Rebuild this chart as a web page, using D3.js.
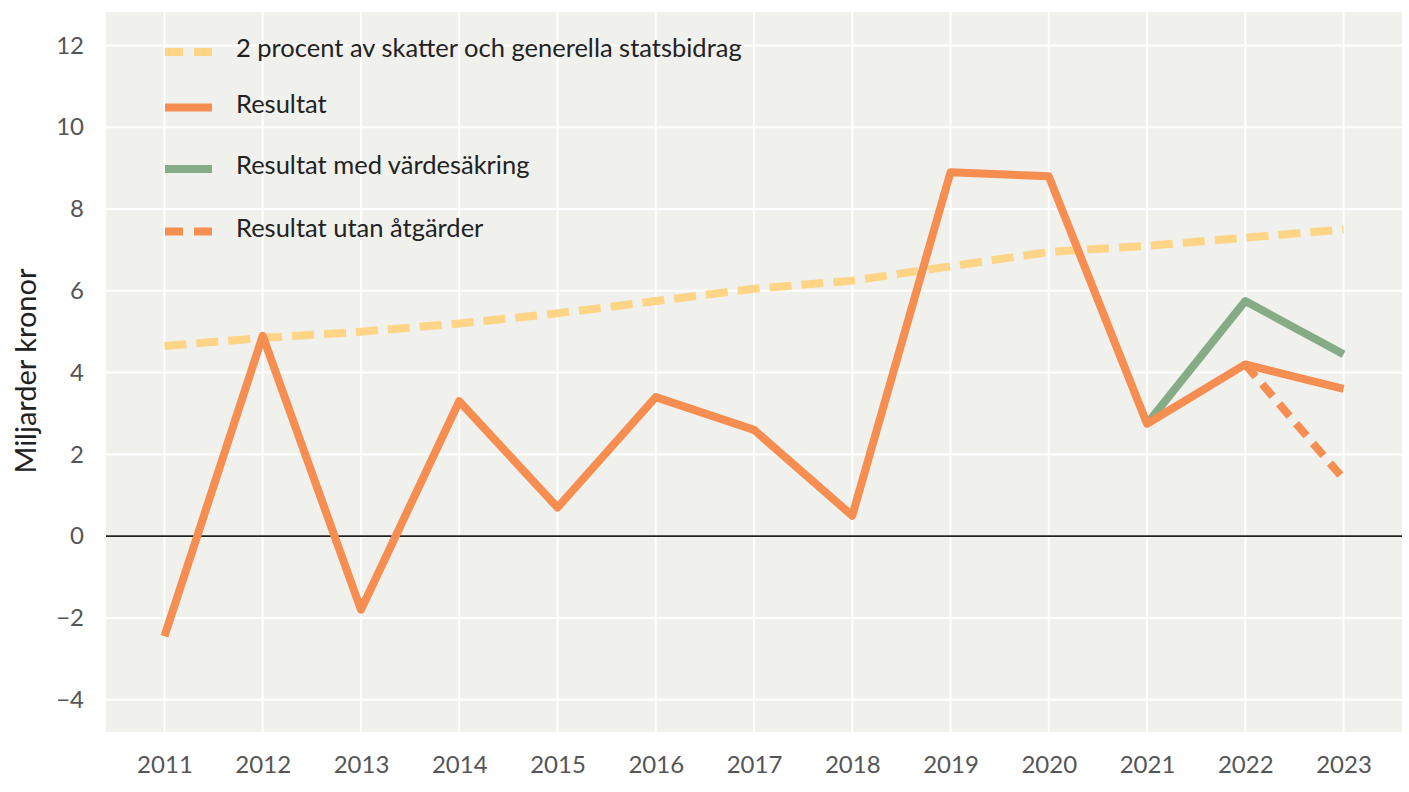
<!DOCTYPE html>
<html lang="sv">
<head>
<meta charset="UTF-8">
<title>Resultat</title>
<script src="https://d3js.org/d3.v7.min.js"></script>
<style>
  body { margin: 0; background: #fff; }
  svg text { font-family: Lato, "Open Sans", sans-serif; }
</style>
</head>
<body>
<div id="chart"></div>
<script>
// data (miljarder kronor)
var years = [2011, 2012, 2013, 2014, 2015, 2016, 2017, 2018, 2019, 2020, 2021, 2022, 2023];
var tvaProcent = [4.65, 4.85, 5.0, 5.2, 5.45, 5.75, 6.05, 6.25, 6.6, 6.95, 7.1, 7.3, 7.5];
var resultat = [-2.45, 4.9, -1.8, 3.3, 0.7, 3.4, 2.6, 0.5, 8.9, 8.8, 2.75, 4.2, 3.6];
var vardesakringYears = [2021, 2022, 2023];
var vardesakring = [2.75, 5.75, 4.45];
var utanYears = [2022, 2023];
var utanAtgarder = [4.2, 1.4];
var yTicks = [-4, -2, 0, 2, 4, 6, 8, 10, 12];
var legendLabels = ["2 procent av skatter och generella statsbidrag", "Resultat", "Resultat med värdesäkring", "Resultat utan åtgärder"];

var width = 1409, height = 792;
var plotLeft = 106, plotRight = 1402, plotTop = 12, plotBottom = 732;

var orange = "#f68d51", yellow = "#fed487", green = "#85ab87";

var x = d3.scaleLinear().domain([2010.405, 2023.595]).range([plotLeft, plotRight]);
var y = d3.scaleLinear().domain([-4.79, 12.82]).range([plotBottom, plotTop]);

var svg = d3.select("#chart").append("svg")
    .attr("width", width)
    .attr("height", height);

// plot background
svg.append("rect")
    .attr("x", plotLeft).attr("y", plotTop)
    .attr("width", plotRight - plotLeft).attr("height", plotBottom - plotTop)
    .attr("fill", "#f0f0ec");

// gridlines
svg.append("g").selectAll("line").data(yTicks).enter().append("line")
    .attr("x1", plotLeft).attr("x2", plotRight)
    .attr("y1", d => y(d)).attr("y2", d => y(d))
    .attr("stroke", "#fff").attr("stroke-width", 2);
svg.append("g").selectAll("line").data(years).enter().append("line")
    .attr("x1", d => x(d)).attr("x2", d => x(d))
    .attr("y1", plotTop).attr("y2", plotBottom)
    .attr("stroke", "#fff").attr("stroke-width", 2);

// zero line
svg.append("line")
    .attr("x1", plotLeft).attr("x2", plotRight)
    .attr("y1", y(0)).attr("y2", y(0))
    .attr("stroke", "#222").attr("stroke-width", 1.6);

// axes labels
var yAxis = d3.axisLeft(y).tickValues(yTicks).tickSize(0).tickPadding(0)
    .tickFormat(d => d < 0 ? "\u2212" + Math.abs(d) : d);
var gy = svg.append("g").attr("transform", "translate(84,0)").call(yAxis);
gy.select(".domain").remove();
gy.selectAll("text").attr("font-size", 24).attr("fill", "#555").attr("font-family", "Lato, sans-serif");

var xAxis = d3.axisBottom(x).tickValues(years).tickSize(0).tickPadding(0).tickFormat(d3.format("d"));
var gx = svg.append("g").attr("transform", "translate(0,756)").call(xAxis);
gx.select(".domain").remove();
gx.selectAll("text").attr("font-size", 24).attr("fill", "#555").attr("font-family", "Lato, sans-serif");

svg.append("text")
    .attr("transform", "translate(36,371) rotate(-90)")
    .attr("text-anchor", "middle")
    .attr("font-size", 29)
    .attr("fill", "#222")
    .text("Miljarder kronor");

var line = d3.line().x(d => x(d[0])).y(d => y(d[1]));

svg.append("path")
    .attr("d", line(d3.zip(years, tvaProcent)))
    .attr("fill", "none").attr("stroke", yellow)
    .attr("stroke-width", 8).attr("stroke-dasharray", "22,10");

svg.append("path")
    .attr("d", line(d3.zip(utanYears, utanAtgarder)))
    .attr("fill", "none").attr("stroke", orange)
    .attr("stroke-width", 8).attr("stroke-dasharray", "16,10");

svg.append("path")
    .attr("d", line(d3.zip(vardesakringYears, vardesakring)))
    .attr("fill", "none").attr("stroke", green)
    .attr("stroke-width", 8).attr("stroke-linejoin", "round");

svg.append("path")
    .attr("d", line(d3.zip(years, resultat)))
    .attr("fill", "none").attr("stroke", orange)
    .attr("stroke-width", 8).attr("stroke-linejoin", "round");

// legend
var legendRows = [52, 107.5, 169, 231.5];
var legendStyles = [
    {color: yellow, dash: "18,11"},
    {color: orange, dash: null},
    {color: green, dash: null},
    {color: orange, dash: "18,11"}
];
var lg = svg.append("g").selectAll("g").data(legendLabels).enter().append("g")
    .attr("transform", (d, i) => "translate(0," + legendRows[i] + ")");
lg.append("line")
    .attr("x1", 165).attr("x2", 212)
    .attr("stroke", (d, i) => legendStyles[i].color)
    .attr("stroke-width", 8)
    .attr("stroke-dasharray", (d, i) => legendStyles[i].dash);
lg.append("text")
    .attr("x", 236).attr("y", 5)
    .attr("font-size", 25.5)
    .attr("fill", "#222")
    .text(d => d);
</script>
</body>
</html>
